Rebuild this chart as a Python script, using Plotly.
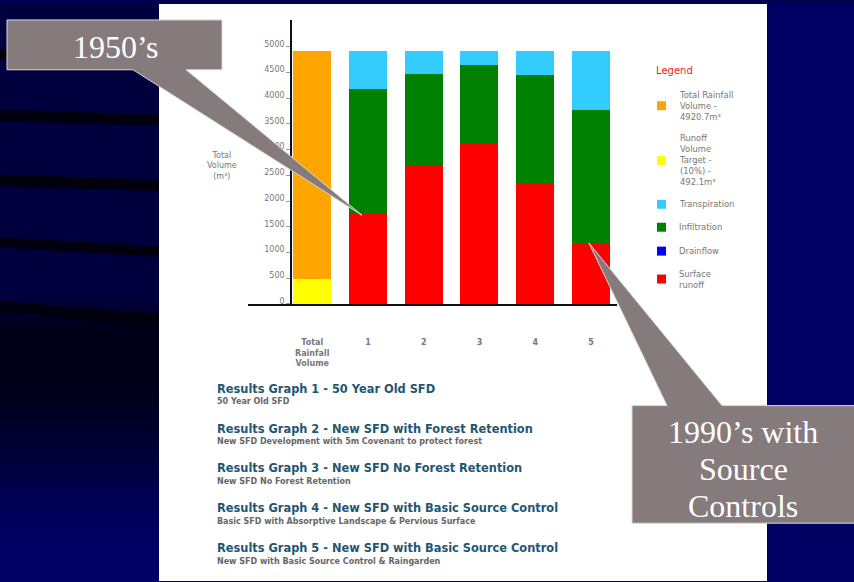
import plotly.graph_objects as go

W, H = 854, 582          # reference picture size (pixels used for placing decorations)

# ---------------- data ----------------
categories = ["Total<br>Rainfall<br>Volume", "1", "2", "3", "4", "5"]
scenarios = ["1", "2", "3", "4", "5"]
total_rainfall = 4920.7
runoff_target = 492.1
surface_runoff = [1745, 2710, 3135, 2360, 1190]
drainflow = [0, 0, 0, 0, 0]
infiltration = [2440, 1765, 1515, 2090, 2575]
transpiration = [736, 446, 271, 471, 1156]
y_ticks = [0, 500, 1000, 1500, 2000, 2500, 3000, 3500, 4000, 4500, 5000]

legend_labels = [
    "Total Rainfall<br>Volume -<br>4920.7m³",
    "Runoff<br>Volume<br>Target -<br>(10%) -<br>492.1m³",
    "Transpiration",
    "Infiltration",
    "Drainflow",
    "Surface<br>runoff",
]
legend_colors = ["#ffa500", "#ffff00", "#33ccff", "#008000", "#0000ff", "#ff0000"]

graph_titles = [
    "Results Graph 1 - 50 Year Old SFD",
    "Results Graph 2 - New SFD with Forest Retention",
    "Results Graph 3 - New SFD No Forest Retention",
    "Results Graph 4 - New SFD with Basic Source Control",
    "Results Graph 5 - New SFD with Basic Source Control",
]
graph_subtitles = [
    "50 Year Old SFD",
    "New SFD Development with 5m Covenant to protect forest",
    "New SFD No Forest Retention",
    "Basic SFD with Absorptive Landscape & Pervious Surface",
    "New SFD with Basic Source Control & Raingarden",
]
callout_1 = "1950’s"
callout_2_lines = ["1990’s with", "Source", "Controls"]

# ---------------- helpers (pixel -> paper) ----------------
def px(x):
    return x / W

def py(y):
    return 1 - y / H

def path(points):
    return "M " + " L ".join(f"{px(x):.5f},{py(y):.5f}" for x, y in points) + " Z"

FONT = "DejaVu Sans"
SERIF = "Liberation Serif"

fig = go.Figure()
bw = 0.68
fig.add_bar(x=[categories[0]], y=[runoff_target], marker_color="#ffff00", width=bw)
fig.add_bar(x=[categories[0]], y=[total_rainfall - runoff_target], marker_color="#ffa500", width=bw)
fig.add_bar(x=scenarios, y=surface_runoff, marker_color="#ff0000", width=bw)
fig.add_bar(x=scenarios, y=drainflow, marker_color="#0000ff", width=bw)
fig.add_bar(x=scenarios, y=infiltration, marker_color="#008000", width=bw)
fig.add_bar(x=scenarios, y=transpiration, marker_color="#33ccff", width=bw)
fig.update_traces(marker_line_width=0, showlegend=False, hoverinfo="skip")

shapes = []
# left background gradient bands
def left_blue(y):
    stops = [(0, 62), (295, 64), (330, 24), (390, 24), (520, 92), (582, 104)]
    for (y0, c0), (y1, c1) in zip(stops, stops[1:]):
        if y0 <= y <= y1:
            return int(c0 + (c1 - c0) * (y - y0) / (y1 - y0))
    return 104

step = 6
for y in range(0, H, step):
    b = left_blue(y + step / 2)
    shapes.append(dict(type="rect", xref="paper", yref="paper", layer="below",
                       x0=px(0), x1=px(160), y0=py(y + step + 0.5), y1=py(y),
                       fillcolor=f"rgb(0,0,{b})", line_width=0))
# dark stripes on left
stripes = [(50, 60, 54, 64), (110, 122, 115, 126), (175, 187, 180, 192),
           (238, 248, 247, 258), (302, 313, 315, 328)]
for a, b, c, d in stripes:
    shapes.append(dict(type="path", xref="paper", yref="paper", layer="below",
                       path=path([(0, a), (160, c), (160, d), (0, b)]),
                       fillcolor="#00000e", line_width=0))
# top strip
shapes.append(dict(type="rect", xref="paper", yref="paper", layer="below",
                   x0=px(0), x1=px(854), y0=py(4), y1=py(0),
                   fillcolor="#000050", line_width=0))
# white panel
shapes.append(dict(type="rect", xref="paper", yref="paper", layer="below",
                   x0=px(159), x1=px(767), y0=py(583), y1=py(4),
                   fillcolor="white", line_width=0))
# legend swatches
legend_centers = [106, 161, 205, 228, 252, 280]
for col, cy in zip(legend_colors, legend_centers):
    shapes.append(dict(type="rect", xref="paper", yref="paper", layer="above",
                       x0=px(657), x1=px(666), y0=py(cy + 4.5), y1=py(cy - 4.5),
                       fillcolor=col, line_width=0))
# callouts
gray = "#867b7c"
shapes.append(dict(type="path", xref="paper", yref="paper", layer="above",
                   path=path([(7, 20), (222, 20), (222, 70), (186, 70), (362, 216),
                              (133, 70), (7, 70)]),
                   fillcolor=gray, line=dict(color="#d8d8d8", width=1)))
shapes.append(dict(type="path", xref="paper", yref="paper", layer="above",
                   path=path([(632, 407), (667, 407), (589, 244), (722, 407),
                              (860, 407), (860, 525), (632, 525)]),
                   fillcolor=gray, line=dict(color="#d8d8d8", width=1)))

annotations = []
# axis title
annotations.append(dict(xref="paper", yref="paper", x=px(222), y=py(167),
                        text="Total<br>Volume<br>(m³)", showarrow=False,
                        font=dict(family=FONT, size=8, color="#777777"),
                        xanchor="center", yanchor="middle", align="center"))
# legend
annotations.append(dict(xref="paper", yref="paper", x=px(654), y=py(71),
                        text="Legend", showarrow=False,
                        font=dict(family=FONT, size=10, color="#ee1c1c"),
                        xanchor="left", yanchor="middle"))
for lab, cy in zip(legend_labels, legend_centers):
    annotations.append(dict(xref="paper", yref="paper", x=px(677), y=py(cy),
                            text=lab, showarrow=False,
                            font=dict(family=FONT, size=8.4, color="#777777"),
                            xanchor="left", yanchor="middle", align="left"))
# results text
title_y = [390, 430, 470, 510, 550]
for t, s, ty in zip(graph_titles, graph_subtitles, title_y):
    annotations.append(dict(xref="paper", yref="paper", x=px(215), y=py(ty),
                            text=t, showarrow=False,
                            font=dict(family=FONT, size=11.4, color="#1f5672", weight="bold"),
                            xanchor="left", yanchor="middle"))
    annotations.append(dict(xref="paper", yref="paper", x=px(215), y=py(ty + 13),
                            text=s, showarrow=False,
                            font=dict(family=FONT, size=8, color="#666666", weight="bold"),
                            xanchor="left", yanchor="middle"))
# callout texts
annotations.append(dict(xref="paper", yref="paper", x=px(115), y=py(47),
                        text=callout_1, showarrow=False,
                        font=dict(family=SERIF, size=32, color="white"),
                        xanchor="center", yanchor="middle"))
for line, ly in zip(callout_2_lines, [433, 471, 508]):
    annotations.append(dict(xref="paper", yref="paper", x=px(743), y=py(ly),
                            text=line, showarrow=False,
                            font=dict(family=SERIF, size=32, color="white"),
                            xanchor="center", yanchor="middle"))

x0i = -1.152
x1i = 5.468
fig.update_layout(
    autosize=True,
    margin=dict(l=0, r=0, t=0, b=0, pad=0),
    paper_bgcolor="#000062", plot_bgcolor="rgba(0,0,0,0)",
    barmode="stack", bargap=0,
    shapes=shapes, annotations=annotations,
    xaxis=dict(domain=[px(248), px(617)], range=[x0i, x1i], type="category",
               categoryorder="array", categoryarray=categories,
               showline=True, linecolor="#111111", linewidth=1.5,
               showgrid=False, zeroline=False, ticks="",
               ticklabelstandoff=30,
               tickfont=dict(family=FONT, size=8, color="#777777", weight="bold")),
    yaxis=dict(domain=[py(305), py(20)], range=[0, 5521], anchor="free",
               position=px(291), showline=True, linecolor="#111111", linewidth=1.5,
               showgrid=False, zeroline=False, tickvals=y_ticks,
               ticks="outside", ticklen=4, tickcolor="#999999", ticklabelshift=-3,
               tickfont=dict(family=FONT, size=8, color="#777777")),
    showlegend=False,
)

post = (
    "document.documentElement.style.margin='0';document.documentElement.style.padding='0';"
    "document.documentElement.style.overflow='hidden';"
    "document.documentElement.style.background='#000062';"
    "document.body.style.margin='0';document.body.style.padding='0';"
    "document.body.style.overflow='hidden';"
    "document.body.style.background='#000062';"
    "var gd=document.getElementById('{plot_id}');"
    "gd.style.position='fixed';gd.style.left='0px';gd.style.top='0px';"
    "gd.style.width='100vw';gd.style.height='100vh';"
    "Plotly.Plots.resize(gd);"
)
fig.write_html("out.html", default_width="100vw", default_height="100vh",
               config={"displayModeBar": False, "responsive": True},
               post_script=post)
